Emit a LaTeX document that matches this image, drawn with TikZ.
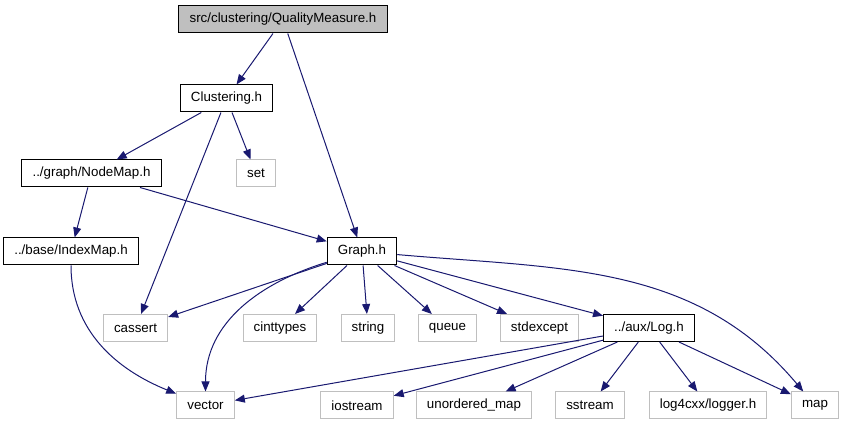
\documentclass[tikz,border=0pt]{standalone}
\usepackage{fontspec}
\setmainfont{Liberation Sans}
\usetikzlibrary{arrows.meta}
\definecolor{edgeblue}{HTML}{191970}
\definecolor{sysgray}{HTML}{BFBFBF}

\begin{document}
\begin{tikzpicture}[%
    x=0.75pt, y=-0.75pt,
    font=\fontsize{10}{12}\selectfont,
    filebox/.style={
        draw,
        rectangle,
        fill=white,
        line width=0.75pt,
        inner xsep=8pt,
        inner ysep=0pt,
        minimum height=20.25pt
        },
    sysbox/.style={filebox, draw=sysgray},
    rootbox/.style={filebox, fill=sysgray},
    dep/.style={%
        -{Triangle[length=7.5pt,width=6pt]},
        edgeblue,
        line width=0.75pt},
]

\useasboundingbox (0,0) rectangle (843,427);

% project headers
\node[rootbox] (qm)    at (283,19.5)  {src/clustering/QualityMeasure.h};
\node[filebox] (clus)  at (226.5,98.5) {Clustering.h};
\node[filebox] (nmap)  at (91.5,173.5) {../graph/NodeMap.h};
\node[filebox] (imap)  at (71,251.5)   {../base/IndexMap.h};
\node[filebox] (graph) at (362,251.5)  {Graph.h};
\node[filebox] (log)   at (649,328)    {../aux/Log.h};

% system headers
\foreach \n/\t/\x/\y in {set/set/256/173.5,
                         cassert/cassert/135.5/328,
                         cinttypes/cinttypes/280/328,
                         string/string/368/328,
                         queue/queue/447.5/328,
                         stdexcept/stdexcept/539.5/328,
                         vector/vector/205.5/405.5,
                         iostream/iostream/357/405.5,
                         umap/unordered\_map/474/405.5,
                         sstream/sstream/590/405.5,
                         logger/{log4cxx/logger.h}/708/405.5,
                         map/map/815/405.5}
    \node[sysbox] (\n) at (\x,\y) {\t};

\draw[dep] (qm) -- (clus);
\draw[dep] (qm) -- (graph);
\foreach \t in {nmap,cassert,set}
    \draw[dep] (clus) -- (\t);
\draw[dep] (nmap) -- (imap);
\draw[dep] (nmap) -- (graph);
\draw[dep] (imap) to[out=-90,in=158] (vector);
\foreach \t in {cassert,cinttypes,string,queue,stdexcept,log}
    \draw[dep] (graph) -- (\t);
\draw[dep] (graph) to[out=197,in=90] (vector);
\draw[dep] (graph) to[out=-5,in=130] (map);
\foreach \t in {vector,iostream,umap,sstream,logger,map}
    \draw[dep] (log) -- (\t);
\end{tikzpicture}
\end{document}
